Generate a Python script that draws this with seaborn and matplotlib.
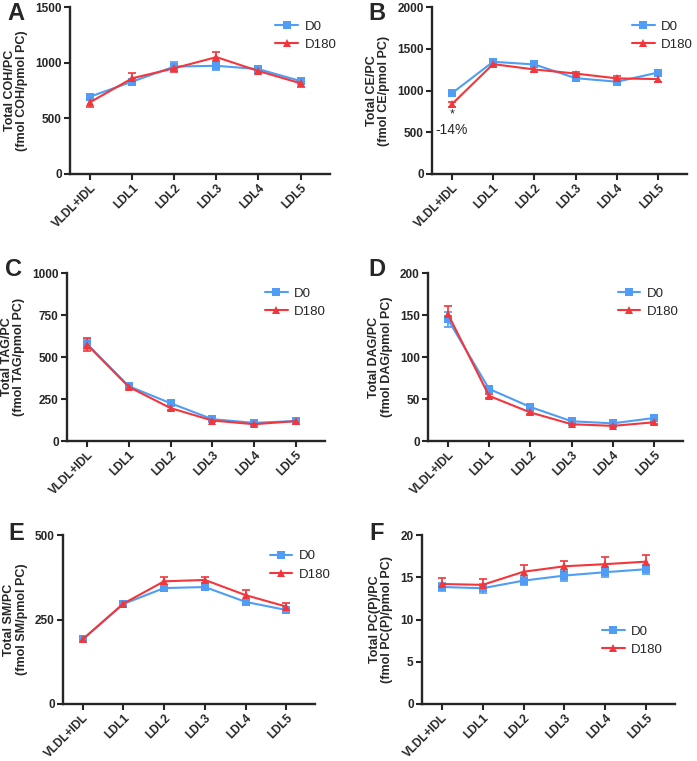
import matplotlib
matplotlib.use("Agg")
import matplotlib.pyplot as plt
import pandas as pd
import numpy as np
import seaborn as sns

sns.set_style("ticks")
plt.rcParams['font.family'] = ['Liberation Sans', 'DejaVu Sans']

# fractions on the x axis
fractions = ["VLDL+IDL", "LDL1", "LDL2", "LDL3", "LDL4", "LDL5"]

# A - COH
coh_d0 = [695, 830, 965, 972, 942, 835]
coh_d180 = [645, 860, 950, 1050, 925, 815]
coh_d0_err = [25, 25, 40, 35, 30, 30]
coh_d180_err = [40, 50, 35, 45, 20, 35]

# B - CE
ce_d0 = [966, 1344, 1312, 1148, 1105, 1215]
ce_d180 = [835, 1316, 1252, 1203, 1145, 1137]
ce_d0_err = [15, 25, 20, 20, 25, 25]
ce_d180_err = [30, 30, 30, 20, 30, 40]

# C - TAG
tag_d0 = [578, 326, 225, 130, 108, 119]
tag_d180 = [574, 322, 196, 122, 100, 118]
tag_d0_err = [30, 12, 10, 8, 6, 6]
tag_d180_err = [38, 12, 10, 8, 6, 6]

# D - DAG
dag_d0 = [145, 62, 40.5, 23.5, 21, 27.4]
dag_d180 = [151.5, 53.7, 34, 20, 18, 22.3]
dag_d0_err = [9, 2.5, 2, 1.5, 1.5, 1.5]
dag_d180_err = [9, 2.5, 2, 1.5, 1.5, 1.5]

# E - SM
sm_d0 = [191, 296, 343, 346, 302, 278]
sm_d180 = [191, 297, 363, 367, 322, 288]
sm_d0_err = [7, 8, 8, 8, 8, 6]
sm_d180_err = [7, 8, 12, 10, 14, 11]

# F - PC(P)
pcp_d0 = [13.85, 13.7, 14.6, 15.2, 15.6, 15.95]
pcp_d180 = [14.2, 14.1, 15.65, 16.3, 16.55, 16.85]
pcp_d0_err = [0.5, 0.55, 0.55, 0.65, 0.6, 0.55]
pcp_d180_err = [0.75, 0.7, 0.8, 0.65, 0.8, 0.75]

colors = {"D0": "#4f9df5", "D180": "#f2363b"}
markers = {"D0": "s", "D180": "^"}

W, H = 697, 761
fig = plt.figure(figsize=(W / 100, H / 100), dpi=100)

# letter, lipid, series..., ymax, step, axes box (px), letter position (px), legend anchor
panels = [
    ("A", "COH", coh_d0, coh_d180, coh_d0_err, coh_d180_err, 1500, 500,
     (70, 7, 330, 174), (16, 14), (1.07, 0.99)),
    ("B", "CE", ce_d0, ce_d180, ce_d0_err, ce_d180_err, 2000, 500,
     (432, 7, 687, 174), (377, 14), (1.07, 0.99)),
    ("C", "TAG", tag_d0, tag_d180, tag_d0_err, tag_d180_err, 1000, 250,
     (67, 273, 325, 441), (14, 270), (1.05, 0.985)),
    ("D", "DAG", dag_d0, dag_d180, dag_d0_err, dag_d180_err, 200, 50,
     (428, 273, 683, 441), (377, 270), (1.03, 0.985)),
    ("E", "SM", sm_d0, sm_d180, sm_d0_err, sm_d180_err, 500, 250,
     (63, 535, 315, 704), (16, 533), (1.11, 0.98)),
    ("F", "PC(P)", pcp_d0, pcp_d180, pcp_d0_err, pcp_d180_err, 20, 5,
     (422, 535, 675, 704), (377, 533), (1.0, 0.535)),
]

for letter, lipid, d0, d180, e0, e180, ymax, ystep, box, lpos, lanchor in panels:
    x0, y0, x1, y1 = box
    ax = fig.add_axes([x0 / W, (H - y1) / H, (x1 - x0) / W, (y1 - y0) / H])
    df = pd.DataFrame({
        "Fraction": fractions * 2,
        "Group": ["D0"] * 6 + ["D180"] * 6,
        "Value": list(d0) + list(d180),
    })
    sns.lineplot(data=df, x="Fraction", y="Value", hue="Group", style="Group",
                 markers=markers, dashes=False, palette=colors, ax=ax,
                 linewidth=1.5, markersize=6, markeredgewidth=0, sort=False)
    xs = np.arange(len(fractions))
    for g, vals, errs in [("D0", d0, e0), ("D180", d180, e180)]:
        ax.errorbar(xs, vals, yerr=errs, fmt="none", ecolor=colors[g],
                    elinewidth=1.2, capsize=3.2, capthick=1.2, zorder=1)

    ax.set_xlim(-0.48, 5.7)
    ax.set_ylim(0, ymax)
    yt = np.arange(0, ymax + 1e-9, ystep)
    ax.set_yticks(yt)
    ax.set_yticklabels([f"{int(t)}" for t in yt], fontsize=8.5, fontweight="bold")
    ax.set_xticks(xs)
    ax.set_xticklabels(fractions, rotation=45, ha="right", rotation_mode="anchor",
                       fontsize=8.5, fontweight="bold")
    ax.set_xlabel("")
    ax.set_ylabel(f"Total {lipid}/PC\n(fmol {lipid}/pmol PC)", fontsize=9,
                  fontweight="bold", labelpad=5, linespacing=1.05)
    sns.despine(ax=ax)
    for s in ["left", "bottom"]:
        ax.spines[s].set_linewidth(1.7)
    ax.tick_params(axis="both", width=1.5, length=4, pad=2)

    ax.legend(loc="upper right", bbox_to_anchor=lanchor, frameon=False,
              fontsize=9.5, handlelength=1.7, handletextpad=0.5,
              labelspacing=0.45)

    fig.text(lpos[0] / W, 1 - lpos[1] / H, letter, fontsize=17,
             fontweight="bold", ha="center", va="center")

    if letter == "B":
        ax.text(0, 640, "*", ha="center", va="bottom", fontsize=9)
        ax.text(0, 610, "-14%", ha="center", va="top", fontsize=10)

fig.savefig("out.png", dpi=100)
